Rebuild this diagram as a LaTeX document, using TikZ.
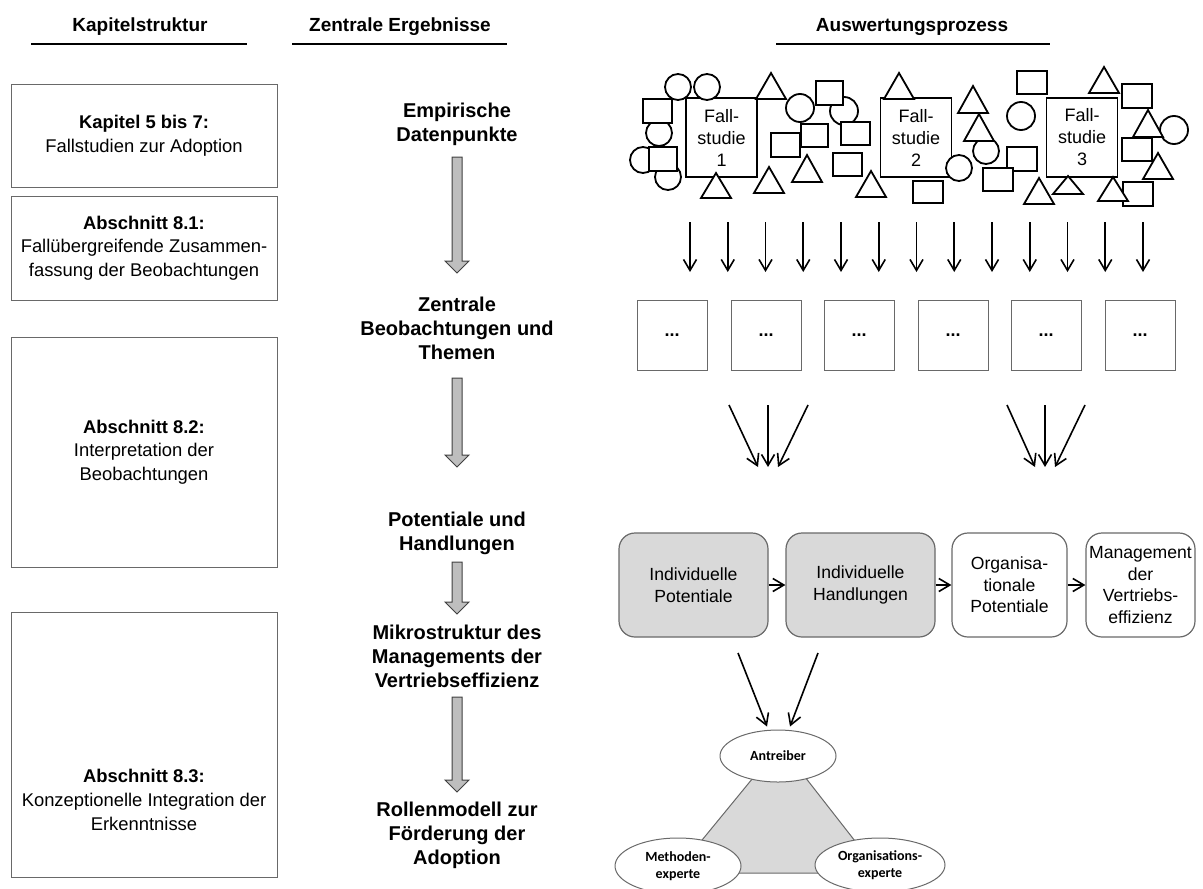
\documentclass[tikz,border=0pt]{standalone}
\usepackage{fontspec}
\setmainfont{Liberation Sans}
\newfontfamily\calfont{Carlito}
\usetikzlibrary{shapes.geometric,arrows.meta,calc,backgrounds}
\definecolor{boxgray}{RGB}{217,217,217}
\definecolor{linegray}{RGB}{105,105,105}
\definecolor{arrowgray}{RGB}{190,190,190}

\tikzset{
  heading/.style={font=\bfseries\fontsize{9.5}{11}\selectfont},
  chapbox/.style={draw=linegray, line width=0.5pt, minimum width=133pt, align=center,
    font=\fontsize{9.2}{11.8}\selectfont},
  chaptext/.style={align=center, font=\fontsize{9.2}{11.8}\selectfont},
  result/.style={align=center, font=\bfseries\fontsize{10}{12}\selectfont},
  casebox/.style={draw, line width=0.9pt, fill=white, minimum width=35.5pt, minimum height=39.5pt,
    inner sep=1pt, align=center, font=\fontsize{9}{11}\selectfont},
  scatter/.style={draw, line width=0.9pt, fill=white},
  dotbox/.style={draw=linegray, line width=0.5pt, minimum width=35pt, minimum height=35pt,
    font=\bfseries\fontsize{9}{11}\selectfont},
  stagebox/.style={draw=linegray, line width=0.6pt, rounded corners=8pt, minimum height=52pt,
    align=center, inner sep=1pt, font=\fontsize{8.8}{10.8}\selectfont},
  role/.style={ellipse, draw=linegray, line width=0.5pt, fill=white, inner sep=0pt, align=center,
    font=\calfont\bfseries\fontsize{7}{8.2}\selectfont},
  thinarrow/.style={-{Straight Barb[length=5.5pt,width=6.5pt]}, line width=0.8pt},
}

% grauer Blockpfeil von #1 nach #2 (Spitze)
\newcommand{\grayarrow}[2]{%
  \filldraw[draw=black!75, fill=arrowgray, line width=0.5pt]
    ($(#1)+(-5,0)$) -- ($(#2)+(-5,-12)$) -- ($(#2)+(-12,-12)$) -- (#2)
    -- ($(#2)+(12,-12)$) -- ($(#2)+(5,-12)$) -- ($(#1)+(5,0)$) -- cycle;}

\begin{document}
\begin{tikzpicture}[x=0.5pt,y=-0.5pt]
  \useasboundingbox (0,0) rectangle (1203,888);

  % Spaltenkoepfe
  \node[heading] (hkap) at (140,27) {Kapitelstruktur};
  \node[heading] (herg) at (400,27) {Zentrale Ergebnisse};
  \node[heading] (hausw) at (912,27) {Auswertungsprozess};
  \draw[line width=1pt] (31,44) -- (247,44);
  \draw[line width=1pt] (292,44) -- (507,44);
  \draw[line width=1pt] (776,44) -- (1050,44);

  % Kapitelstruktur
  \node[chapbox, minimum height=51pt] (kap1) at (144,136)
    {\textbf{Kapitel 5 bis 7:}\\Fallstudien zur Adoption};
  \node[chapbox, minimum height=52pt] (kap2) at (144,248)
    {\textbf{Abschnitt 8.1:}\\Fall\"ubergreifende Zusammen-\\fassung der Beobachtungen};
  \node[chapbox, minimum height=115pt] (kap3) at (144,452)
    {\textbf{Abschnitt 8.2:}\\Interpretation der\\Beobachtungen};
  \node[chapbox, minimum height=132.5pt] (kap4) at (144,744.5) {};
  \node[chaptext] (kap4txt) at (144,800)
    {\textbf{Abschnitt 8.3:}\\Konzeptionelle Integration der\\Erkenntnisse};

  % Zentrale Ergebnisse
  \node[result] (emp) at (457,124) {Empirische\\Datenpunkte};
  \node[result] (zen) at (457,328) {Zentrale\\Beobachtungen und\\Themen};
  \node[result] (pot) at (457,533) {Potentiale und\\Handlungen};
  \node[result] (mik) at (457,656) {Mikrostruktur des\\Managements der\\Vertriebseffizienz};
  \node[result] (rol) at (457,835) {Rollenmodell zur\\F\"orderung der\\Adoption};

  \coordinate (g1a) at (457,157); \coordinate (g1b) at (457,273);
  \coordinate (g2a) at (457,378); \coordinate (g2b) at (457,467);
  \coordinate (g3a) at (457,562); \coordinate (g3b) at (457,614);
  \coordinate (g4a) at (457,697); \coordinate (g4b) at (457,792);
  \grayarrow{g1a}{g1b}
  \grayarrow{g2a}{g2b}
  \grayarrow{g3a}{g3b}
  \grayarrow{g4a}{g4b}

  % Fallstudien mit Datenpunkten
  \node[casebox] (fall1) at (721.5,137.5) {Fall-\\studie\\1};
  \node[casebox] (fall2) at (916,137.5) {Fall-\\studie\\2};
  \node[casebox] (fall3) at (1082,137.5) {Fall-\\studie\\3};

  \foreach \cx/\cy/\r in {678/87/13, 707/87/13, 659/133/13, 643/160/13, 668/177/13,
      800/108/14, 844/111/14, 959/168/13, 986/151/13, 1021/116/14, 1174/130/14}
    \draw[scatter] (\cx,\cy) circle[radius=\r];
  \foreach \xa/\ya/\xb/\yb in {643/99/672/123, 649/147/677/171, 816/81/843/105,
      801/124/828/147, 771/133/800/157, 841/122/870/145, 833/153/862/176,
      913/181/943/203, 1017/71/1047/94, 1007/147/1037/171, 983/168/1013/191,
      1122/84/1152/108, 1122/138/1152/161, 1123/182/1153/206}
    \draw[scatter] (\xa,\ya) rectangle (\xb,\yb);
  \foreach \tx/\ty/\tb in {716/173/198, 771/73/99, 769/167/193, 807/155/182,
      871/171/197, 899/73/99, 973/86/113, 979/114/141, 1039/178/204,
      1068/176/194, 1104/67/93, 1148/110/137, 1158/153/179, 1113/177/201}
    \draw[scatter] (\tx,\ty) -- ({\tx+15},\tb) -- ({\tx-15},\tb) -- cycle;

  % Codierung
  \foreach \i in {0,...,12}
    \draw[thinarrow] ({690+37.75*\i},222) -- ({690+37.75*\i},272);

  \foreach \i/\x in {1/672,2/766,3/859,4/953,5/1046,6/1140}
    \node[dotbox] (dots\i) at (\x,335) {...};

  % Verdichtung
  \foreach \xa/\xb in {729/758, 768/768, 808/778, 1007/1035, 1045/1045, 1085/1055}
    \draw[thinarrow] (\xa,405) -- (\xb,467);

  \node[stagebox, fill=boxgray, minimum width=74.5pt] (indpot) at (693.5,585)
    {Individuelle\\Potentiale};
  \node[stagebox, fill=boxgray, minimum width=74.5pt] (indhan) at (860.5,585)
    {Individuelle\\Handlungen};
  \node[stagebox, minimum width=57.5pt] (orgpot) at (1009.5,585)
    {Organisa-\\tionale\\Potentiale};
  \node[stagebox, minimum width=54.5pt] (mgmt) at (1140.5,585)
    {Management\\der\\Vertriebs-\\effizienz};
  \draw[thinarrow] (indpot) -- (indhan);
  \draw[thinarrow] (indhan) -- (orgpot);
  \draw[thinarrow] (orgpot) -- (mgmt);

  % Rollenmodell
  \node[role, minimum width=58pt, minimum height=26pt] (antr) at (778,756) {Antreiber};
  \node[role, minimum width=63pt, minimum height=28pt] (meth) at (678,866) {Methoden-\\experte};
  \node[role, minimum width=65pt, minimum height=27pt] (orgx) at (880,865) {Organisations-\\experte};
  \begin{scope}[on background layer]
    \filldraw[fill=boxgray, draw=linegray, line width=0.5pt]
      ($(antr.center)+(2,-11)$) -- ($(meth.center)+(-3,7)$) -- ($(orgx.center)+(0,8)$) -- cycle;
  \end{scope}
  \coordinate (r1) at (738,653); \coordinate (r2) at (818,653);
  \draw[thinarrow] (r1) -- ($(antr.north)+(-11,-3)$);
  \draw[thinarrow] (r2) -- ($(antr.north)+(12,-3)$);
\end{tikzpicture}
\end{document}
